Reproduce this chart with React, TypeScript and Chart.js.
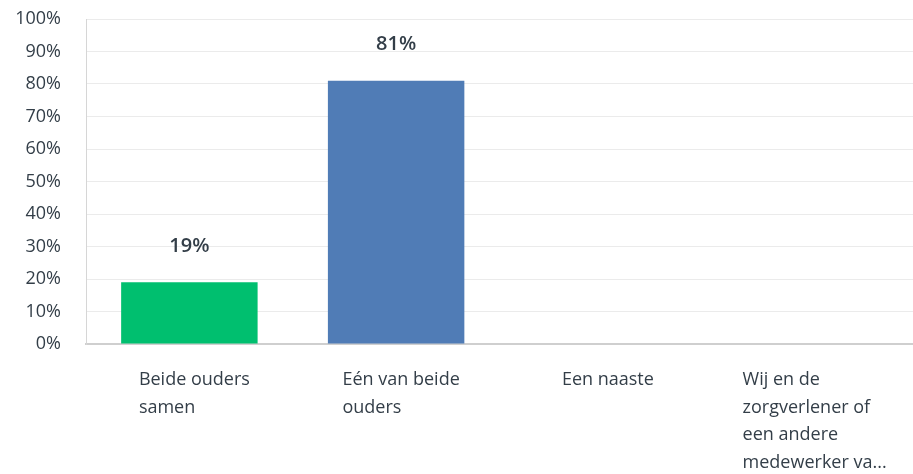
import React, { useEffect, useRef } from "react";
import { Chart, registerables } from "chart.js";

Chart.register(...registerables);

const categories: string[][] = [
  ["Beide ouders", "samen"],
  ["Eén van beide", "ouders"],
  ["Een naaste"],
  ["Wij en de", "zorgverlener of", "een andere", "medewerker va..."],
];
const values: number[] = [19, 81, 0, 0];
const barColors: string[] = ["#00bf6f", "#507cb6", "#00bf6f", "#507cb6"];
const yTicks: number[] = [0, 10, 20, 30, 40, 50, 60, 70, 80, 90, 100];

const FONT = "'Open Sans', sans-serif";
const TEXT = "#333e48";

const labelsPlugin = {
  id: "customLabels",
  afterDraw(chart: any) {
    const ctx = chart.ctx;
    const xScale = chart.scales.x;
    const area = chart.chartArea;
    ctx.save();
    // x category labels, left aligned in a block centred under the category
    ctx.font = `18px ${FONT}`;
    ctx.fillStyle = TEXT;
    ctx.textAlign = "left";
    ctx.textBaseline = "middle";
    categories.forEach((lines, i) => {
      const w = Math.max(...lines.map((l) => ctx.measureText(l).width));
      const x = xScale.getPixelForValue(i) - w / 2 + 5;
      lines.forEach((line, j) => {
        ctx.fillText(line, x, area.bottom + 36 + j * 27.5);
      });
    });
    // value labels above bars
    const meta = chart.getDatasetMeta(0);
    ctx.font = `600 20px ${FONT}`;
    ctx.textAlign = "center";
    meta.data.forEach((bar: any, i: number) => {
      if (values[i] > 0) {
        ctx.fillText(`${values[i]}%`, bar.x, bar.y - 36);
      }
    });
    ctx.restore();
  },
};

export default function App() {
  const ref = useRef<HTMLCanvasElement>(null);
  useEffect(() => {
    if (!ref.current) return;
    const chart = new Chart(ref.current, {
      type: "bar",
      data: {
        labels: categories.map((c) => c.join(" ")),
        datasets: [
          {
            data: values,
            backgroundColor: barColors,
            barPercentage: 0.66,
            categoryPercentage: 1,
          },
        ],
      },
      options: {
        animation: false,
        responsive: false,
        maintainAspectRatio: false,
        layout: { padding: 0 },
        plugins: {
          legend: { display: false },
          tooltip: { enabled: false },
        },
        scales: {
          x: {
            grid: { display: false, drawTicks: false },
            border: { display: true, color: "#cfcfcf", width: 2 },
            ticks: { display: false },
            afterFit(scale: any) {
              scale.height = 130;
            },
          },
          y: {
            min: 0,
            max: 100,
            afterBuildTicks(scale: any) {
              scale.ticks = yTicks.map((v) => ({ value: v }));
            },
            grid: { color: "#ebebeb", lineWidth: 1, drawTicks: false },
            border: { display: true, color: "#d6d6d6", width: 1 },
            ticks: {
              padding: 25,
              color: TEXT,
              font: { family: FONT, size: 18 },
              callback: (v: any) => `${v}%`,
            },
            afterFit(scale: any) {
              scale.width = 86;
              scale.paddingTop = 19;
              scale.paddingBottom = 0;
            },
          },
        },
      },
      plugins: [labelsPlugin],
    });
    return () => chart.destroy();
  }, []);
  return (
    <div style={{ position: "absolute", left: 0, top: 0, width: 913, height: 474 }}>
      <canvas ref={ref} width={913} height={474} style={{ width: 913, height: 474 }} />
    </div>
  );
}
